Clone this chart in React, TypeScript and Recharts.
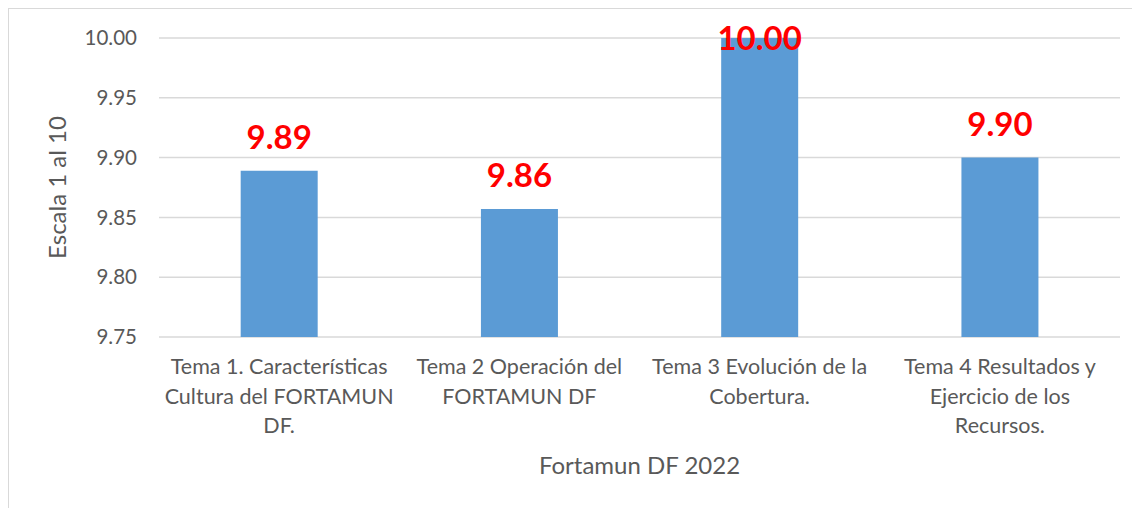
import { ComposedChart, Bar, XAxis, YAxis, CartesianGrid, LabelList, Label } from 'recharts';

const categories = ['Tema 1', 'Tema 2', 'Tema 3', 'Tema 4'];
const categoryLines = [
  ['Tema 1. Características', 'Cultura del FORTAMUN', 'DF.'],
  ['Tema 2 Operación del', 'FORTAMUN DF'],
  ['Tema 3 Evolución de la', 'Cobertura.'],
  ['Tema 4 Resultados y', 'Ejercicio de los', 'Recursos.'],
];
const scores = [9.889, 9.857, 10.0, 9.9];
const yTicks = [9.75, 9.8, 9.85, 9.9, 9.95, 10.0];

const data = categories.map((name, i) => ({ name, score: scores[i], lines: categoryLines[i] }));

const FONT = 'Lato, "Open Sans", sans-serif';
const TEXT = '#595959';

const CategoryTick = (props: any) => {
  const { x, y, index } = props;
  const lines = categoryLines[index] || [];
  return (
    <text x={x} y={y} textAnchor="middle" fill={TEXT} fontSize={21.5} fontFamily={FONT}>
      {lines.map((l, i) => (
        <tspan key={i} x={x} y={y + 37 + i * 29.5}>
          {l}
        </tspan>
      ))}
    </text>
  );
};

const ValueLabel = (props: any) => {
  const { x, y, width, value } = props;
  const baseline = Math.max(y - 22, 41);
  return (
    <text
      x={x + width / 2}
      y={baseline}
      textAnchor="middle"
      fill="#ff0000"
      fontSize={33}
      fontWeight="bold"
      fontFamily={FONT}
    >
      {Number(value).toFixed(2)}
    </text>
  );
};

const App = () => {
  return (
    <div
      style={{
        width: 1131,
        height: 499,
        borderTop: '1px solid #d9d9d9',
        borderLeft: '1px solid #d9d9d9',
        background: 'white',
      }}
    >
      <ComposedChart
        width={1131}
        height={499}
        data={data}
        margin={{ top: 29, right: 20, left: 0, bottom: 0 }}
        barCategoryGap="34%"
      >
        <CartesianGrid vertical={false} stroke="#d9d9d9" strokeWidth={1.5} />
        <XAxis
          dataKey="name"
          height={171}
          axisLine={false}
          tickLine={false}
          tickSize={0}
          tickMargin={0}
          interval={0}
          tick={<CategoryTick />}
        >
          <Label
            content={(p: any) => {
              const vb = p.viewBox;
              return (
                <text
                  x={vb.x + vb.width / 2}
                  y={vb.y + 137}
                  textAnchor="middle"
                  fill={TEXT}
                  fontSize={24}
                  fontFamily={FONT}
                >
                  Fortamun DF 2022
                </text>
              );
            }}
          />
        </XAxis>
        <YAxis
          width={150}
          domain={[9.75, 10]}
          ticks={yTicks}
          allowDataOverflow
          axisLine={false}
          tickLine={false}
          tickSize={0}
          tickMargin={22}
          tickFormatter={(v: number) => v.toFixed(2)}
          tick={{ fill: TEXT, fontSize: 20.5, fontFamily: FONT }}
        >
          <Label
            content={(p: any) => {
              const vb = p.viewBox;
              const cx = 47;
              const cy = vb.y + vb.height / 2;
              return (
                <text
                  x={cx}
                  y={cy}
                  transform={`rotate(-90 ${cx} ${cy})`}
                  textAnchor="middle"
                  dominantBaseline="central"
                  fill={TEXT}
                  fontSize={24}
                  fontFamily={FONT}
                >
                  Escala 1 al 10
                </text>
              );
            }}
          />
        </YAxis>
        <Bar dataKey="score" fill="#5b9bd5" isAnimationActive={false}>
          <LabelList dataKey="score" content={<ValueLabel />} />
        </Bar>
      </ComposedChart>
    </div>
  );
};

export default App;
